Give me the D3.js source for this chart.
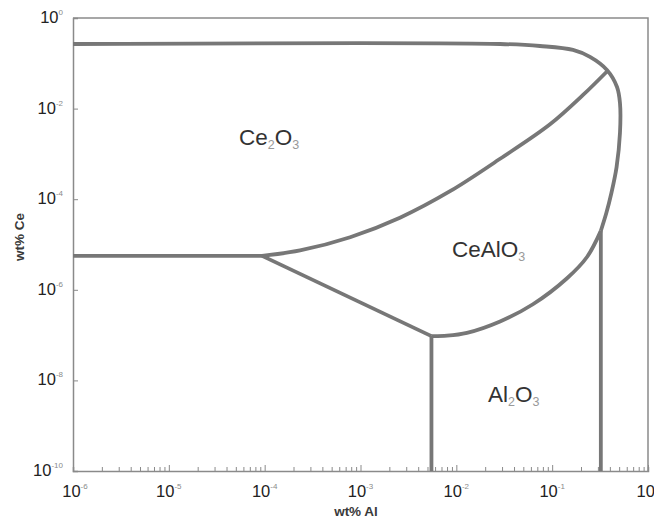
<!DOCTYPE html>
<html>
<head>
<meta charset="utf-8">
<script src="https://cdn.jsdelivr.net/npm/d3@7"></script>
<style>
  body { margin: 0; background: #fff; }
  svg { display: block; font-family: "Liberation Sans", Arial, sans-serif; }
</style>
</head>
<body>
<svg id="chart" width="654" height="519"></svg>
<script>
// ---- data (wt% Al, wt% Ce) ----
const xDecades = [-6, -5, -4, -3, -2, -1, 0];
const yLabelDecades = [0, -2, -4, -6, -8, -10];

const topBoundary = [
  [1e-6, 0.267], [0.0286, 0.267], [0.0746, 0.241], [0.165, 0.197], [0.248, 0.138],
  [0.373, 0.071], [0.475, 0.030], [0.51, 0.0133], [0.51, 0.0029], [0.47, 5.1e-4],
  [0.415, 1.37e-4], [0.368, 5.0e-5], [0.322, 2.0e-5]
];
const ceHorizontal = [[1e-6, 5.6e-6], [9.4e-5, 5.6e-6]];
const ce2o3CeAlO3 = [
  [9.4e-5, 5.6e-6], [2.34e-4, 7.4e-6], [7.8e-4, 1.45e-5], [2.58e-3, 3.9e-5],
  [8.6e-3, 1.5e-4], [0.0286, 7.8e-4], [0.095, 4.5e-3], [0.21, 0.02], [0.373, 0.066]
];
const diagonal = [[9.4e-5, 5.6e-6], [5.5e-3, 9.5e-8]];
const ceAlO3Lower = [
  [5.5e-3, 9.5e-8], [8e-3, 9.7e-8], [0.0129, 1.12e-7], [0.0286, 2.0e-7],
  [0.063, 4.8e-7], [0.143, 1.8e-6], [0.231, 5.3e-6], [0.322, 2.0e-5]
];
const leftVertical = [[5.5e-3, 9.5e-8], [5.5e-3, 1e-10]];
const rightVertical = [[0.322, 2.0e-5], [0.322, 1e-10]];

const phaseLabels = [
  {x: 5.4e-5, y: 1.57e-3, parts: [["Ce", 0], ["2", 1], ["O", 0], ["3", 1]]},
  {x: 9.0e-3, y: 5.3e-6, parts: [["CeAlO", 0], ["3", 1]]},
  {x: 0.0214, y: 3.3e-9, parts: [["Al", 0], ["2", 1], ["O", 0], ["3", 1]]}
];

// ---- chart ----
const svg = d3.select("#chart");
const x = d3.scaleLog().domain([1e-6, 1]).range([73, 648]);
const y = d3.scaleLog().domain([1e-10, 1]).range([471, 18]);

const axisColor = "#8a8a8a";
const lineColor = "#777777";

// frame (top & right)
svg.append("path")
  .attr("d", `M${x(1e-6)},${y(1)}H${x(1)}V${y(1e-10)}`)
  .attr("fill", "none").attr("stroke", axisColor).attr("stroke-width", 1.5);

// x axis
const xMinor = [];
for (let d = -6; d < 0; d++) for (let k = 1; k <= 9; k++) xMinor.push(k * Math.pow(10, d));
xMinor.push(1);
const isMajorX = v => Math.abs(Math.log10(v) - Math.round(Math.log10(v))) < 1e-9;
const gx = svg.append("g").attr("transform", `translate(0,${y(1e-10)})`)
  .call(d3.axisBottom(x).tickValues(xMinor).tickSize(-4).tickFormat(""));
gx.select(".domain").attr("stroke", axisColor).attr("stroke-width", 1.5);
gx.selectAll(".tick line").attr("stroke", axisColor).attr("stroke-width", 1)
  .attr("y2", d => isMajorX(d) ? -6 : -4);

// y axis
const yTicks = yLabelDecades.map(d => Math.pow(10, d));
const gy = svg.append("g").attr("transform", `translate(${x(1e-6)},0)`)
  .call(d3.axisLeft(y).tickValues(yTicks).tickSize(-5).tickFormat(""));
gy.select(".domain").attr("stroke", axisColor).attr("stroke-width", 1.5);
gy.selectAll(".tick line").attr("stroke", axisColor).attr("stroke-width", 1);

function powLabel(g, exp, anchor) {
  const t = g.append("text").attr("text-anchor", anchor).attr("fill", "#222")
    .attr("font-size", 16.5);
  t.append("tspan").text("10");
  t.append("tspan").attr("font-size", 8).attr("fill", "#8a8a8a").attr("dy", -8).text(exp);
  return t;
}
// x tick labels
xDecades.forEach(d => {
  const g = svg.append("g").attr("transform", `translate(${x(Math.pow(10, d)) + (d === -6 ? 2 : 0)},497)`);
  powLabel(g, String(d), "middle");
});
// y tick labels
yLabelDecades.forEach(d => {
  const g = svg.append("g").attr("transform", `translate(63,${y(Math.pow(10, d)) + 5})`);
  powLabel(g, String(d), "end");
});

// axis titles
svg.append("text").attr("x", 356).attr("y", 516).attr("text-anchor", "middle")
  .attr("font-size", 13.5).attr("font-weight", "bold").attr("fill", "#3a3a3a").text("wt% Al");
svg.append("text").attr("transform", "translate(24,237) rotate(-90)").attr("text-anchor", "middle")
  .attr("font-size", 13.5).attr("font-weight", "bold").attr("fill", "#3a3a3a").text("wt% Ce");

// phase boundaries
const line = d3.line().x(d => x(d[0])).y(d => y(d[1])).curve(d3.curveCatmullRom.alpha(0.5));
const straight = d3.line().x(d => x(d[0])).y(d => y(d[1]));
const gl = svg.append("g").attr("fill", "none").attr("stroke", lineColor)
  .attr("stroke-width", 3.8).attr("stroke-linejoin", "round");
gl.append("path").attr("d", line(topBoundary));
gl.append("path").attr("d", straight(ceHorizontal));
gl.append("path").attr("d", line(ce2o3CeAlO3));
gl.append("path").attr("d", straight(diagonal));
gl.append("path").attr("d", line(ceAlO3Lower));
gl.append("path").attr("d", straight(leftVertical));
gl.append("path").attr("d", straight(rightVertical));

// phase labels
phaseLabels.forEach(p => {
  const t = svg.append("text").attr("x", x(p.x)).attr("y", y(p.y))
    .attr("font-size", 22.5).attr("fill", "#333");
  p.parts.forEach(([s, sub], i) => {
    const ts = t.append("tspan").text(s);
    if (sub) ts.attr("font-size", 12.5).attr("fill", "#999").attr("dy", 4);
    else if (i > 0) ts.attr("dy", -4);
  });
});
</script>
</body>
</html>
